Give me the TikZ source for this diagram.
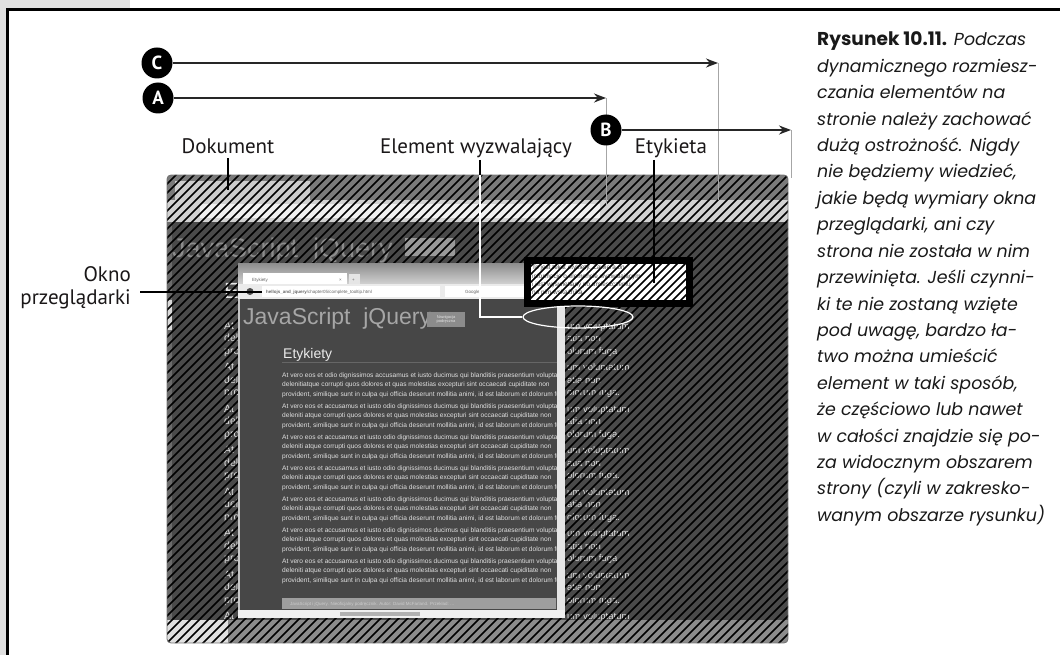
\documentclass[tikz,border=0pt]{standalone}
\usepackage{fontspec}
\setmainfont{PT Sans}
\newfontfamily\capfont{Poppins}
\newfontfamily\webfont{Liberation Sans}
\usetikzlibrary{arrows.meta,shapes.geometric}
\definecolor{frameg}{HTML}{E0E0E0}
\definecolor{docdark}{HTML}{4A4A4A}
\definecolor{webdark}{HTML}{474747}
\definecolor{inktxt}{HTML}{1A1718}
\begin{document}
\begin{tikzpicture}[x=1pt,y=-1pt,
  lbl/.style={font=\fontsize{21}{23}\selectfont, text=inktxt, inner sep=0pt},
  badge/.style={circle, fill=black, minimum size=31pt, inner sep=0pt, text=white, font=\bfseries\fontsize{19}{19}\selectfont},
  dimarrow/.style={draw=black!85, line width=1.8pt, -{Stealth[length=12pt,width=9pt]}},
  guide/.style={draw=black!35, line width=0.7pt},
  leader/.style={draw=black, line width=1.3pt},
  hatchline/.style={draw=black, line width=1.7pt},
  webtxt/.style={font=\webfont\fontsize{6.6}{8}\selectfont, text=black!12, anchor=base west, inner sep=0pt},
  doctxt/.style={font=\webfont\fontsize{10.5}{12}\selectfont, text=black!12, anchor=base west, inner sep=0pt},
  tinytxt/.style={font=\webfont\fontsize{4.5}{5}\selectfont, text=black!60, anchor=base west, inner sep=0pt},
  captxt/.style={font=\capfont\itshape\fontsize{17.4}{20}\selectfont, text=black!90, anchor=base west, inner sep=0pt},
]
\useasboundingbox (0,0) rectangle (1060,655);
% page frame
\fill[frameg] (0,0) rectangle (130,8.5);
\fill[frameg] (0,0) rectangle (6,655);
\draw[line width=2.6pt] (7.3,655) -- (7.3,9.3) -- (1060,9.3);

% ---------- document screenshot ----------
\begin{scope}
\clip[rounded corners=4pt] (167,175) rectangle (788,643);
\fill[docdark] (167,175) rectangle (788,643);
\fill[black!52] (167,175) rectangle (788,200);
\fill[black!20] (175,181) rectangle (310,200);
\fill[black!18] (167,200) rectangle (788,222);
\fill[black!6] (200,204) rectangle (600,218);
\node[font=\webfont\fontsize{27}{27}\selectfont, text=black!45, anchor=base west, inner sep=0pt] (docjs) at (172,258) {JavaScript\ \ jQuery};
\fill[black!40] (405,238) rectangle (455,256);
\fill[black!58] (167,222) rectangle (172,620);
\fill[black!15] (168,300) rectangle (171.5,330);
\node[font=\webfont\fontsize{22}{22}\selectfont, text=black!10, anchor=base west, inner sep=0pt] (docet) at (224,298) {E};
\foreach \k in {0,...,7} {
  \node[doctxt] (dla\k) at (224,{329+41.5*\k}) {At};
  \node[doctxt] (dlb\k) at (224,{341.5+41.5*\k}) {del};
  \node[doctxt] (dlc\k) at (224,{354+41.5*\k}) {pro};
  \node[doctxt, font=\webfont\fontsize{9.5}{10}\selectfont] (dra\k) at (567,{329+41.5*\k}) {um voluptatum};
  \node[doctxt, font=\webfont\fontsize{9.5}{10}\selectfont] (drb\k) at (567,{341.5+41.5*\k}) {atia non};
  \node[doctxt, font=\webfont\fontsize{9.5}{10}\selectfont] (drc\k) at (567,{354+41.5*\k}) {olorum fuga.};
}
\fill[docdark] (567,222) rectangle (640,318);
\fill[black!45] (167,620) rectangle (788,643);
\fill[black!12] (167,620) rectangle (228,643);
\foreach \i in {0,...,124} \draw[hatchline] ({-305+\i*9},647) -- ++(476,-476);
\end{scope}
\draw[black!55, line width=0.8pt, rounded corners=4pt] (167,175) rectangle (788,643);

% ---------- browser window ----------
\fill[black!22] (238,263) rectangle (565,618);
\shade[top color=black!45, bottom color=black!18] (238,263) rectangle (565,284);
\fill[white] (243,273) rectangle (347,284);
\node[tinytxt] (tab) at (252,281) {Etykiety};
\node[tinytxt] (tabx) at (339,281) {×};
\fill[black!10] (349,274) rectangle (360,284);
\node[tinytxt] (tabp) at (352,281) {+};
\fill[black!8] (238,284) rectangle (565,299);
\fill[white] (262,286) rectangle (440,297);
\fill[black!70] (250,291.5) circle (3.5);
\node[tinytxt] (url) at (266,293.5) {\textbf{hellojs\_and\_jquery}/chapter05/complete\_tooltip.html};
\fill[white] (445,286) rectangle (528,297);
\node[tinytxt] (srch) at (465,293.5) {Google};
\fill[webdark] (240,299) rectangle (557,610);
\node[font=\webfont\fontsize{23}{23}\selectfont, text=black!35, anchor=base west, inner sep=0pt] (webjs) at (243,324.5) {JavaScript\ \ jQuery};
\fill[black!45] (427,312) rectangle (465,327);
\node[tinytxt, text=black!10, anchor=center, align=center, font=\webfont\fontsize{4}{4.6}\selectfont] (btn) at (446,319.5) {Nawigacja\\podręczna};
\node[font=\webfont\fontsize{14}{14}\selectfont, text=black!8, anchor=base west, inner sep=0pt] (webet) at (283,358) {Etykiety};
\draw[black!60, line width=0.8pt] (282,362) -- (557,362);
\begin{scope}
\clip (240,299) rectangle (556,610);
\node[webtxt] (p0a) at (282,377) {At vero eos et odio dignissimos accusamus et iusto ducimus qui blanditiis praesentium voluptatum};
\node[webtxt] (p0b) at (282,386.5) {delenitiatque corrupti quos dolores et quas molestias excepturi sint occaecati cupiditate non};
\node[webtxt] (p0c) at (282,396) {provident, similique sunt in culpa qui officia deserunt mollitia animi, id est laborum et dolorum fuga.};
\foreach \k in {1,...,6} {
  \node[webtxt] (pa\k) at (282,{377+31*\k}) {At vero eos et accusamus et iusto odio dignissimos ducimus qui blanditiis praesentium voluptatum};
  \node[webtxt] (pb\k) at (282,{386.5+31*\k}) {deleniti atque corrupti quos dolores et quas molestias excepturi sint occaecati cupiditate non};
  \node[webtxt] (pc\k) at (282,{396+31*\k}) {provident, similique sunt in culpa qui officia deserunt mollitia animi, id est laborum et dolorum fuga.};
}
\fill[black!38] (282,598) rectangle (557,609);
\node[tinytxt, text=black!20] (foot) at (290,605.5) {JavaScript i jQuery. Nieoficjalny podręcznik. Autor: David McFarland. Przekład: ...};
\end{scope}
\fill[black!10] (557,299) rectangle (565,610);
\fill[black!6] (238,610) rectangle (565,618);
\fill[black!30] (340,612) rectangle (420,616);

% ---------- label box (Etykieta) ----------
\fill[white] (527,260) rectangle (689,303);
\node[tinytxt, text=black!70, anchor=north west, align=left, font=\webfont\fontsize{6.4}{8.2}\selectfont] (tip) at (532,265) {To jest tekst etykiety. Zawiera on\\informacje o elemencie wyzwalającym\\i jest wyświetlany po umieszczeniu\\na nim wskaźnika};
\begin{scope}
\clip (527,260) rectangle (689,303);
\foreach \i in {0,...,26} \draw[draw=black, line width=1.5pt] ({484+\i*8},305) -- ++(47,-47);
\end{scope}
\draw[line width=7pt] (527,260) rectangle (689,303);

% ---------- labels and leaders ----------
\node[lbl, anchor=base] (dok) at (228,154) {Dokument};
\node[lbl, anchor=base] (elw) at (476,154) {Element wyzwalający};
\node[lbl, anchor=base] (ety) at (671,154) {Etykieta};
\node[lbl, anchor=east, align=right, font=\fontsize{21}{23}\selectfont] (okno) at (131,288) {Okno\\przeglądarki};

\coordinate (dokE) at (228,190);
\draw[leader] (dok.south) ++(0,4) -- (dokE);
\node[draw=white, line width=1.2pt, ellipse, minimum width=110pt, minimum height=22pt, inner sep=0pt] (trig) at (578,317) {};
\coordinate (elwK) at (480,175);
\draw[leader] (480,160) -- (elwK);
\draw[white, line width=1.2pt] (elwK) |- (trig.west);
\coordinate (etyE) at (654,283);
\draw[leader] (654,160) -- (etyE);
\coordinate (oknoS) at (140,292);
\coordinate (oknoE) at (262,292);
\draw[leader] (oknoS) -- (oknoE);

% ---------- dimension arrows ----------
\coordinate (Cend) at (718,63);
\coordinate (Cbot) at (718,200);
\coordinate (Aend) at (606,98);
\coordinate (Abot) at (606,205);
\coordinate (Bend) at (791,130);
\coordinate (Bbot) at (791,178);
\draw[guide] (Cend) -- (Cbot);
\draw[guide] (Aend) -- (Abot);
\draw[guide] (Bend) -- (Bbot);
\node[badge] (C) at (157,63) {C};
\node[badge] (A) at (158,98) {A};
\node[badge] (B) at (606,130) {B};
\draw[dimarrow] (C) -- (Cend);
\draw[dimarrow] (A) -- (Aend);
\draw[dimarrow] (B) -- (Bend);

% ---------- caption ----------
\node[captxt] (cap1) at (817,46) {{\upshape\bfseries\fontsize{18.6}{20}\selectfont Rysunek 10.11.} Podczas};
\foreach \t [count=\i from 1] in {{dynamicznego rozmiesz-},{czania elementów na},{stronie należy zachować},{dużą ostrożność. Nigdy},{nie będziemy wiedzieć,},{jakie będą wymiary okna},{przeglądarki, ani czy},{strona nie została w nim},{przewinięta. Jeśli czynni-},{ki te nie zostaną wzięte},{pod uwagę, bardzo ła-},{two można umieścić},{element w taki sposób,},{że częściowo lub nawet},{w całości znajdzie się po-},{za widocznym obszarem},{strony (czyli w zakresko-},{wanym obszarze rysunku)}}
  \node[captxt] (cap\i x) at (817,{46+26.4*\i}) {\t};
\end{tikzpicture}
\end{document}
